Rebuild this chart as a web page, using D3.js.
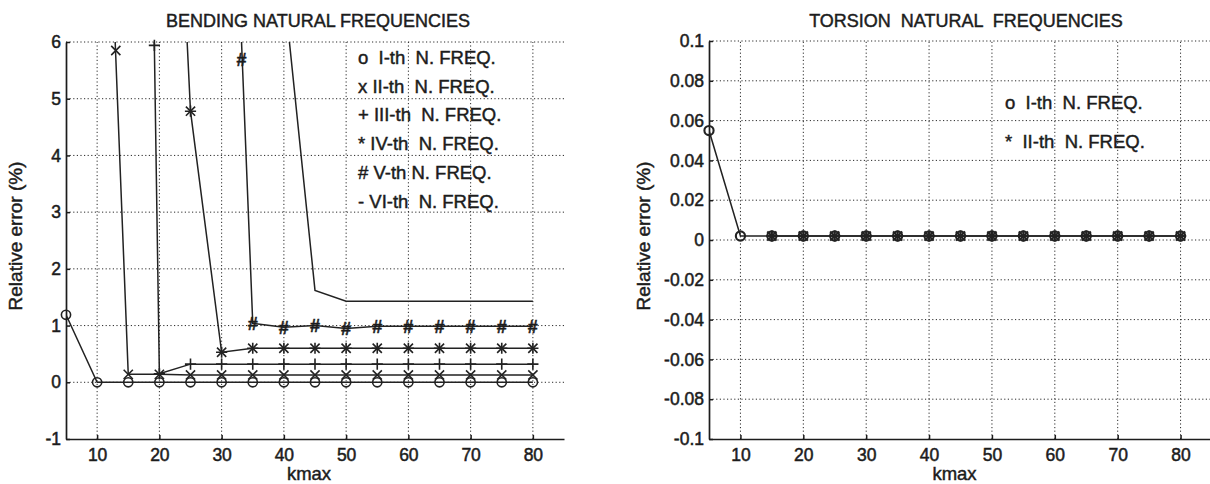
<!DOCTYPE html>
<html>
<head>
<meta charset="utf-8">
<script src="https://cdn.jsdelivr.net/npm/d3@7/dist/d3.min.js"></script>
<style>
  body { margin: 0; background: #ffffff; }
  svg { font-family: 'Liberation Sans', Arial, sans-serif; }
  .eje path, .eje line { stroke: #1c1c1c; stroke-width: 1.5px; }
  .eje text { fill: #1c1c1c; font-size: 17.5px; stroke: #1c1c1c; stroke-width: 0.5px; }
  .texto { fill: #1c1c1c; stroke: #1c1c1c; stroke-width: 0.45px; }
  .rejilla { stroke: #2a2a2a; stroke-width: 1px; stroke-dasharray: 1.2, 2.4; }
  .curva { fill: none; stroke: #222; stroke-width: 1.5px; }
  .marca { fill: none; stroke: #222; }
</style>
</head>
<body>
<div id="graf"></div>
<script>
// kmax values (x axis of both panels)
const kmax = [5, 10, 15, 20, 25, 30, 35, 40, 45, 50, 55, 60, 65, 70, 75, 80]

// bending relative errors (%), null = not computed / not shown
const benI   = [1.19, 0, 0, 0, 0, 0, 0, 0, 0, 0, 0, 0, 0, 0, 0, 0]
const benII  = [null, 14.1, 0.14, 0.14, 0.13, 0.13, 0.13, 0.13, 0.13, 0.13, 0.13, 0.13, 0.13, 0.13, 0.13, 0.13]
const benIII = [null, null, 36, 0.15, 0.32, 0.32, 0.32, 0.32, 0.32, 0.32, 0.32, 0.32, 0.32, 0.32, 0.32, 0.32]
const benIV  = [null, null, null, 16.1, 4.78, 0.53, 0.6, 0.6, 0.6, 0.6, 0.6, 0.6, 0.6, 0.6, 0.6, 0.6]
const benV   = [null, null, null, null, null, 14.8, 1.04, 0.97, 1.0, 0.95, 0.99, 0.99, 0.99, 0.99, 0.99, 0.99]
const benVI  = [null, null, null, null, null, null, null, 6.95, 1.62, 1.43, 1.43, 1.43, 1.43, 1.43, 1.43, 1.43]
const benMarks = ['o', 'x', '+', '*', '#', '-']

// labels written on the curves near the top
const tagK = [13.0, 19.2, 33.2]
const tagV = [5.85, 5.94, 5.7]
const tagS = ['x', '+', '#']

// torsion relative errors (%)
const torI  = [0.055, 0.002, 0.002, 0.002, 0.002, 0.002, 0.002, 0.002, 0.002, 0.002, 0.002, 0.002, 0.002, 0.002, 0.002, 0.002]
const torII = [null, null, 0.002, 0.002, 0.002, 0.002, 0.002, 0.002, 0.002, 0.002, 0.002, 0.002, 0.002, 0.002, 0.002, 0.002]
const torMarks = ['o', '*']

// ticks and legends
const xTicks = [10, 20, 30, 40, 50, 60, 70, 80]
const yTicksBen = [-1, 0, 1, 2, 3, 4, 5, 6]
const yTicksTor = [-0.1, -0.08, -0.06, -0.04, -0.02, 0, 0.02, 0.04, 0.06, 0.08, 0.1]
const legBen = ['o  I-th  N. FREQ.', 'x II-th  N. FREQ.', '+ III-th  N. FREQ.', '* IV-th  N. FREQ.', '# V-th N. FREQ.', '- VI-th  N. FREQ.']
const legTor = ['o  I-th  N. FREQ.', '*  II-th  N. FREQ.']

const svg = d3.select('#graf').append('svg')
              .attr('width', 1210)
              .attr('height', 484)

// draw one marker symbol centred in (cx, cy)
function marca(g, tipo, cx, cy, grosor) {
  const s = 4.6
  if (tipo == 'o') {
    g.append('circle').attr('class', 'marca').style('stroke-width', grosor)
     .attr('cx', cx).attr('cy', cy).attr('r', s)
  }
  if (tipo == 'x' || tipo == '*') {
    g.append('path').attr('class', 'marca').style('stroke-width', grosor)
     .attr('d', `M${cx - s},${cy - s}L${cx + s},${cy + s}M${cx - s},${cy + s}L${cx + s},${cy - s}`)
  }
  if (tipo == '+' || tipo == '*') {
    g.append('path').attr('class', 'marca').style('stroke-width', grosor)
     .attr('d', `M${cx - s - 1},${cy}L${cx + s + 1},${cy}M${cx},${cy - s - 1}L${cx},${cy + s + 1}`)
  }
  if (tipo == '#') {
    g.append('text').attr('class', 'texto').attr('x', cx).attr('y', cy + 6.5)
     .attr('text-anchor', 'middle').style('font-size', '18px').style('font-weight', 'bold')
     .text('#')
  }
}

function panel(p) {
  const x = d3.scaleLinear().domain([5, 85]).range([p.izq, p.der])
  const y = d3.scaleLinear().domain(p.dominio).range([439, p.sup])
  const g = svg.append('g')

  g.append('clipPath').attr('id', p.id)
   .append('rect')
   .attr('x', x(5)).attr('y', y(p.dominio[1]))
   .attr('width', x(85) - x(5)).attr('height', y(p.dominio[0]) - y(p.dominio[1]))

  // dotted grid
  g.selectAll('.gh').data(p.yTicks.slice(1)).enter()
   .append('line').attr('class', 'rejilla')
   .attr('x1', x(5)).attr('x2', x(85))
   .attr('y1', d => y(d)).attr('y2', d => y(d))
  g.selectAll('.gv').data(xTicks).enter()
   .append('line').attr('class', 'rejilla')
   .attr('x1', d => x(d)).attr('x2', d => x(d))
   .attr('y1', y(p.dominio[0])).attr('y2', y(p.dominio[1]))

  // axes
  g.append('g').attr('class', 'eje')
   .attr('transform', `translate(0, ${y(p.dominio[0])})`)
   .call(d3.axisBottom(x).tickValues(xTicks).tickSizeInner(-4).tickSizeOuter(0).tickPadding(10).tickFormat(d => String(d)))
  g.append('g').attr('class', 'eje')
   .attr('transform', `translate(${x(5)}, 0)`)
   .call(d3.axisLeft(y).tickValues(p.yTicks).tickSizeInner(-4).tickSizeOuter(0).tickPadding(5).tickFormat(d => String(d)))
  g.selectAll('.eje .domain').style('stroke-width', '1.7px')

  // curves
  const linea = d3.line()
                  .defined(d => d.v != null)
                  .x(d => x(d.k))
                  .y(d => y(d.v))
  const capa = g.append('g').attr('clip-path', `url(#${p.id})`)
  const marcas = g.append('g')
  p.series.forEach((serie, i) => {
    const pts = kmax.map((k, j) => ({ k: k, v: serie[j] }))
    capa.append('path').attr('class', 'curva').attr('d', linea(pts))
    pts.filter(d => d.v != null && d.v <= p.dominio[1] && d.v >= p.dominio[0])
       .forEach(d => marca(marcas, p.marcas[i], x(d.k), y(d.v), p.grosor))
  })
  if (p.tags) {
    p.tags.k.forEach((k, i) => marca(marcas, p.tags.s[i], x(k), y(p.tags.v[i]), p.grosor))
  }

  // title, labels, legend
  g.append('text').attr('class', 'texto').attr('x', p.tituloX).attr('y', 27)
   .attr('text-anchor', 'middle').style('font-size', '18px')
   .style('white-space', 'pre').text(p.titulo)
  g.append('text').attr('class', 'texto').attr('x', (x(5) + x(85)) / 2 - 6).attr('y', 480)
   .attr('text-anchor', 'middle').style('font-size', '18.5px')
   .text('kmax')
  g.append('text').attr('class', 'texto')
   .attr('transform', `translate(${p.etiquetaX}, 236) rotate(-90)`)
   .attr('text-anchor', 'middle').style('font-size', '19px')
   .text('Relative error (%)')
  g.selectAll('.ley').data(p.leyenda).enter()
   .append('text').attr('class', 'texto')
   .attr('x', p.leyX).attr('y', (d, i) => p.leyY + i * p.leyPaso)
   .style('font-size', '18.5px').style('white-space', 'pre')
   .text(d => d)
}

panel({ id: 'cb', izq: 66, der: 564, sup: 42, dominio: [-1, 6], yTicks: yTicksBen,
        series: [benI, benII, benIII, benIV, benV, benVI], marcas: benMarks, grosor: 1.6,
        tags: { k: tagK, v: tagV, s: tagS },
        titulo: 'BENDING NATURAL FREQUENCIES', tituloX: 318, etiquetaX: 22,
        leyenda: legBen, leyX: 358, leyY: 64, leyPaso: 28.7 })

panel({ id: 'ct', izq: 709, der: 1212, sup: 41, dominio: [-0.1, 0.1], yTicks: yTicksTor,
        series: [torI, torII], marcas: torMarks, grosor: 2.1,
        titulo: 'TORSION  NATURAL  FREQUENCIES', tituloX: 966, etiquetaX: 650,
        leyenda: legTor, leyX: 1005, leyY: 109, leyPaso: 39 })
</script>
</body>
</html>
